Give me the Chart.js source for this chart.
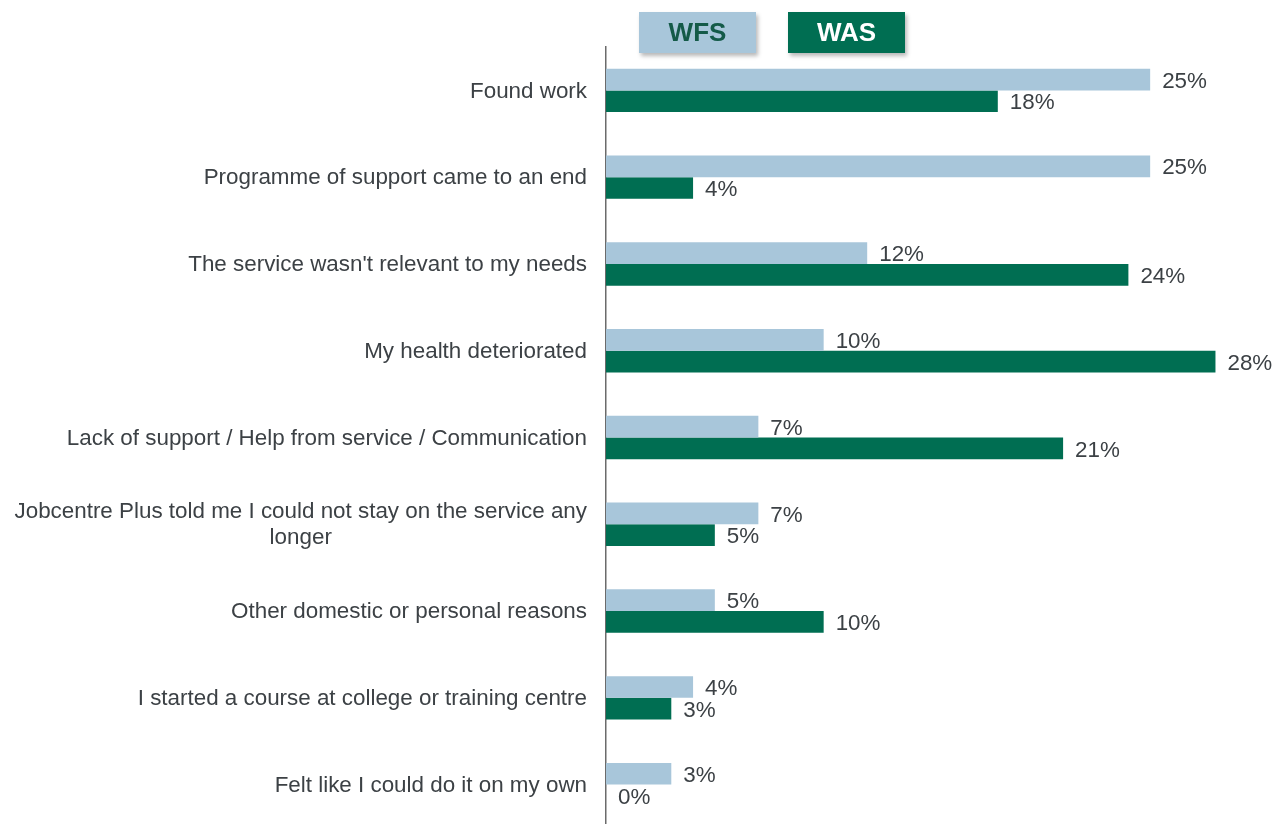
<!DOCTYPE html>
<html>
<head>
<meta charset="utf-8">
<title>Reasons for leaving the service</title>
<script src="https://cdn.jsdelivr.net/npm/chart.js@4/dist/chart.umd.min.js"></script>
<style>
  html, body { margin: 0; padding: 0; background: #fff; overflow: hidden; }
  #wrap { position: relative; width: 1282px; height: 830px; }
  #legend { position: absolute; top: 12px; left: 639px; display: flex; gap: 32px; }
  .key {
    width: 117px; height: 41px;
    display: flex; align-items: center; justify-content: center;
    font: bold 26px "Liberation Sans", Arial, sans-serif;
    box-shadow: 2px 3px 4px rgba(0, 0, 0, 0.28);
  }
</style>
</head>
<body>
<div id="wrap">
  <canvas id="bars" width="1282" height="830"></canvas>
  <div id="legend"></div>
</div>
<script>
var reasons = [
  'Found work',
  'Programme of support came to an end',
  "The service wasn't relevant to my needs",
  'My health deteriorated',
  'Lack of support / Help from service / Communication',
  ['Jobcentre Plus told me I could not stay on the service any', 'longer'],
  'Other domestic or personal reasons',
  'I started a course at college or training centre',
  'Felt like I could do it on my own'
];
var seriesNames = ['WFS', 'WAS'];
var wfs = [25, 25, 12, 10, 7, 7, 5, 4, 3];
var was = [18, 4, 24, 28, 21, 5, 10, 3, 0];

var lightBlue = '#a8c6da';
var darkGreen = '#006e52';
var textGrey = '#3c4145';
var font = '22.4px "Liberation Sans", Arial, sans-serif';

// category names, right aligned as a block, lines centred within it
var categoryLabels = {
  id: 'categoryLabels',
  afterDraw: function(chart) {
    var ctx = chart.ctx;
    var y = chart.scales.y;
    var right = chart.chartArea.left - 19;
    ctx.save();
    ctx.font = font;
    ctx.fillStyle = textGrey;
    ctx.textAlign = 'center';
    ctx.textBaseline = 'middle';
    chart.data.labels.forEach(function(lbl, i) {
      var lines = Array.isArray(lbl) ? lbl : [lbl];
      var w = Math.max.apply(null, lines.map(function(l) { return ctx.measureText(l).width; }));
      var cx = right - w / 2;
      var lh = 26;
      var top = y.getPixelForValue(i) - (lines.length - 1) * lh / 2 + 1;
      lines.forEach(function(l, k) {
        ctx.fillText(l, cx, top + k * lh);
      });
    });
    ctx.restore();
  }
};

// percentage next to the end of every bar
var valueLabels = {
  id: 'valueLabels',
  afterDatasetsDraw: function(chart) {
    var ctx = chart.ctx;
    ctx.save();
    ctx.font = font;
    ctx.fillStyle = textGrey;
    ctx.textAlign = 'left';
    ctx.textBaseline = 'middle';
    chart.data.datasets.forEach(function(ds, di) {
      chart.getDatasetMeta(di).data.forEach(function(bar, i) {
        ctx.fillText(ds.data[i] + '%', bar.x + 12, bar.y + 2);
      });
    });
    ctx.restore();
  }
};

var chart = new Chart(document.getElementById('bars'), {
  type: 'bar',
  data: {
    labels: reasons,
    datasets: [
      { label: seriesNames[0], data: wfs, backgroundColor: lightBlue },
      { label: seriesNames[1], data: was, backgroundColor: darkGreen }
    ]
  },
  options: {
    indexAxis: 'y',
    responsive: false,
    animation: false,
    events: [],
    categoryPercentage: 0.5,
    barPercentage: 1,
    layout: { padding: { left: 606, top: 47, right: 23, bottom: 2 } },
    scales: {
      x: { display: false, min: 0, max: 30 },
      y: {
        ticks: { display: false },
        grid: { display: false, drawTicks: false },
        border: { display: true, color: '#6b6b6b', width: 1.5 },
        afterFit: function(s) { s.width = 0; }
      }
    },
    plugins: {
      legend: { display: false },
      tooltip: { enabled: false }
    }
  },
  plugins: [categoryLabels, valueLabels]
});

// boxed legend above the bars
var legend = document.getElementById('legend');
chart.data.datasets.forEach(function(ds, i) {
  var d = document.createElement('div');
  d.className = 'key';
  d.textContent = ds.label;
  d.style.background = ds.backgroundColor;
  d.style.color = i === 0 ? '#145a48' : '#ffffff';
  legend.appendChild(d);
});
</script>
</body>
</html>
